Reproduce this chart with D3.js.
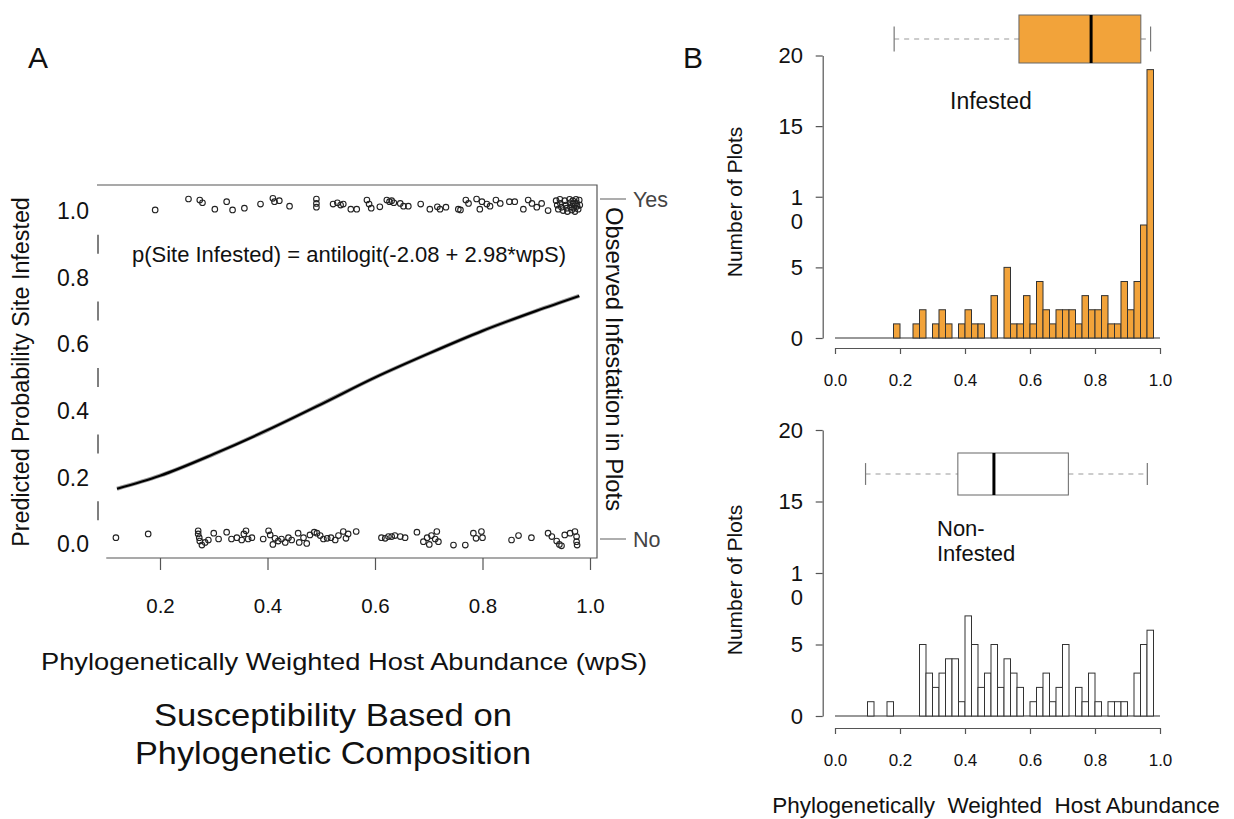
<!DOCTYPE html>
<html>
<head>
<meta charset="utf-8">
<script src="https://cdn.jsdelivr.net/npm/d3@7"></script>
<style>
  body { margin: 0; background: #fff; }
  svg { font-family: "Liberation Sans", Arial, Helvetica, sans-serif; }
</style>
</head>
<body>
<svg id="chart" width="1234" height="819"></svg>
<script>
// ---- panel A data ----
var wpsTicks = [0.2, 0.4, 0.6, 0.8, 1.0];
var probTicks = [0, 0.2, 0.4, 0.6, 0.8, 1.0];
var observedLabels = ["No", "Yes"];
var equationLabel = "p(Site Infested) = antilogit(-2.08 + 2.98*wpS)";

// fitted curve
var curveX = [0.12, 0.2, 0.3, 0.4, 0.5, 0.6, 0.7, 0.8, 0.9, 0.98];
var curveP = [0.166, 0.205, 0.270, 0.342, 0.420, 0.500, 0.572, 0.640, 0.700, 0.745];

// jittered observations [wpS, observed]
var infestedPts = [
  [0.191,0.968],[0.253,1.0],[0.274,0.997],[0.279,0.989],[0.302,0.970],[0.324,0.992],[0.335,0.968],
  [0.357,0.973],[0.387,0.985],[0.410,1.002],[0.413,0.992],[0.422,0.995],[0.441,0.979],[0.491,1.0],
  [0.491,0.987],[0.491,0.976],[0.522,0.985],[0.530,0.989],[0.536,0.982],[0.541,0.985],[0.555,0.970],
  [0.566,0.970],[0.585,0.997],[0.589,0.985],[0.593,0.973],[0.609,0.977],[0.622,0.997],[0.627,0.992],
  [0.631,0.995],[0.635,0.989],[0.647,0.987],[0.653,0.979],[0.662,0.979],[0.685,0.985],[0.702,0.970],
  [0.716,0.977],[0.721,0.970],[0.732,0.976],[0.755,0.970],[0.759,0.968],[0.769,0.997],[0.774,0.987],
  [0.789,1.0],[0.795,0.970],[0.799,0.992],[0.808,0.985],[0.814,0.979],[0.825,0.997],[0.833,0.987],
  [0.850,0.992],[0.860,0.992],[0.876,0.970],[0.885,0.997],[0.892,0.987],[0.901,0.976],[0.910,0.987],
  [0.922,0.966],[0.937,0.995],[0.939,0.982],[0.941,0.970],[0.944,0.999],[0.945,0.987],[0.947,0.976],
  [0.950,0.966],[0.953,0.995],[0.955,0.982],[0.957,0.973],[0.958,0.963],[0.962,0.999],[0.963,0.989],
  [0.964,0.977],[0.966,0.968],[0.968,0.995],[0.969,0.985],[0.970,0.973],[0.972,0.963],[0.974,0.999],
  [0.975,0.989],[0.976,0.979],[0.978,0.970],[0.980,0.997],[0.981,0.982]
];
var nonInfestedPts = [
  [0.118,0.004],[0.178,0.015],[0.271,0.024],[0.271,0.015],[0.273,0.004],[0.274,-0.006],[0.278,-0.018],
  [0.284,-0.010],[0.290,-0.003],[0.300,0.017],[0.309,0],[0.324,0.020],[0.333,0],[0.343,0.004],
  [0.352,-0.003],[0.356,0.015],[0.360,0.024],[0.364,0],[0.371,0.004],[0.392,0],[0.402,0.024],
  [0.405,0.012],[0.410,-0.016],[0.414,0.002],[0.420,-0.006],[0.426,0],[0.433,-0.010],[0.439,0.004],
  [0.445,-0.003],[0.457,0.017],[0.459,-0.010],[0.467,0.004],[0.473,-0.013],[0.479,0.012],[0.487,0.020],
  [0.492,0.017],[0.498,0.010],[0.504,0],[0.511,0.002],[0.518,0.004],[0.526,-0.003],[0.532,0.010],
  [0.541,0.022],[0.546,0.002],[0.550,0.015],[0.565,0.022],[0.612,0.004],[0.619,0.002],[0.625,0.007],
  [0.631,0.007],[0.637,0.010],[0.647,0.007],[0.656,0.004],[0.678,0.020],[0.690,-0.008],[0.697,0.004],
  [0.701,-0.016],[0.705,0.010],[0.712,0],[0.715,0.022],[0.718,-0.008],[0.746,-0.018],[0.768,-0.018],
  [0.783,0.017],[0.788,0.002],[0.798,0.022],[0.800,0.004],[0.854,-0.003],[0.867,0.010],[0.891,0.004],
  [0.922,0.017],[0.929,0.007],[0.938,-0.006],[0.943,-0.016],[0.947,-0.020],[0.953,0.012],[0.963,0.017],
  [0.972,0.022],[0.975,0.007],[0.975,-0.008],[0.976,-0.018]
];

// ---- panel B data ----
var binWidth = 0.02;
var infestedCounts = [0,0,0,0,0,0,0,0,0,1, 0,0,1,2,0,1,2,1,0,1, 2,1,1,0,3,0,5,1,1,3,
                      1,4,2,1,2,2,2,1,3,2, 2,3,1,1,4,2,4,8,19,0];
var nonInfestedCounts = [0,0,0,0,0,1,0,0,1,0, 0,0,0,5,3,2,3,4,4,1, 7,5,2,3,5,2,4,3,2,0,
                         1,2,3,1,2,5,0,2,1,3, 1,0,1,1,1,0,3,5,6,0];
// boxplot: [lower whisker, q1, median, q3, upper whisker]
var infestedBox = [0.182, 0.566, 0.788, 0.941, 0.971];
var nonInfestedBox = [0.094, 0.378, 0.489, 0.718, 0.961];
var histTicks = [0, 0.2, 0.4, 0.6, 0.8, 1.0];
var countTicks = [0, 5, 10, 15, 20];
var countTickLabels = ["0", "5", "1\n0", "15", "20"];

var svg = d3.select("#chart");
var fmt1 = d3.format(".1f");

// ================= Panel A =================
var xA = d3.scaleLinear().domain([0, 1]).range([52.5, 590]);
var yL = d3.scaleLinear().domain([0, 1]).range([544, 211]);
var yR = d3.scaleLinear().domain([0, 1]).range([539, 199]);
var boxTop = 185, boxBottom = 558, boxLeft = 97, boxRight = 597;

var gA = svg.append("g").attr("class", "panelA");

// frame: top, right, bottom
gA.append("path")
  .attr("d", "M" + boxLeft + "," + boxTop + "H" + boxRight + "V" + boxBottom + "H" + xA(0.1))
  .attr("fill", "none").attr("stroke", "#555").attr("stroke-width", 1.2);

// x axis ticks
var xAxisA = d3.axisBottom(xA).tickValues(wpsTicks).tickFormat(fmt1).tickSize(12).tickSizeOuter(0).tickPadding(28);
gA.append("g").attr("transform", "translate(0," + boxBottom + ")").call(xAxisA)
  .call(function(g) {
    g.select(".domain").remove();
    g.selectAll("line").attr("stroke", "#555").attr("stroke-width", 1.2);
    g.selectAll("text").attr("font-size", 20.5).attr("fill", "#111");
  });

// left axis: dashed line between ticks, labels only
var step = yL(0) - yL(0.2), seg = 19, gap = (step - seg) / 2;
gA.append("line")
  .attr("x1", 98).attr("x2", 98).attr("y1", yL(1)).attr("y2", yL(0))
  .attr("stroke", "#555").attr("stroke-width", 1.5)
  .attr("stroke-dasharray", "0," + gap + "," + seg + "," + gap);
gA.selectAll("text.ylab").data(probTicks).enter().append("text")
  .attr("class", "ylab")
  .attr("x", 89).attr("y", function(d) { return yL(d); })
  .attr("dy", "0.36em").attr("text-anchor", "end")
  .attr("font-size", 23).attr("fill", "#111")
  .text(fmt1);

// right axis Yes / No
var gR = gA.append("g");
gR.selectAll("line").data([0, 1]).enter().append("line")
  .attr("x1", 600).attr("x2", 626)
  .attr("y1", function(d) { return yR(d); }).attr("y2", function(d) { return yR(d); })
  .attr("stroke", "#777").attr("stroke-width", 1.2);
gR.selectAll("text").data([0, 1]).enter().append("text")
  .attr("x", 633).attr("y", function(d) { return yR(d); })
  .attr("dy", "0.36em").attr("font-size", 21.5).attr("fill", "#444")
  .text(function(d) { return observedLabels[d]; });

// points
function drawPts(data) {
  gA.append("g").selectAll("circle").data(data).enter().append("circle")
    .attr("cx", function(d) { return xA(d[0]); })
    .attr("cy", function(d) { return yR(d[1]); })
    .attr("r", 2.8)
    .attr("fill", "none").attr("stroke", "#222").attr("stroke-width", 1.1);
}
drawPts(infestedPts);
drawPts(nonInfestedPts);

// fitted curve
var curve = d3.line().curve(d3.curveMonotoneX)
  .x(function(d, i) { return xA(curveX[i]); })
  .y(function(d, i) { return yL(curveP[i]); });
gA.append("path").datum(curveX).attr("d", curve)
  .attr("fill", "none").attr("stroke", "#999").attr("stroke-width", 4);
gA.append("path").datum(curveX).attr("d", curve)
  .attr("fill", "none").attr("stroke", "#000").attr("stroke-width", 2.2);

gA.append("text").attr("x", 349).attr("y", 254).attr("dy", "0.36em")
  .attr("text-anchor", "middle").attr("font-size", 22).attr("fill", "#111")
  .text(equationLabel);

// titles
gA.append("text").attr("transform", "translate(29,372) rotate(-90)")
  .attr("text-anchor", "middle").attr("font-size", 23.3).attr("fill", "#111")
  .text("Predicted Probability Site Infested");
gA.append("text").attr("transform", "translate(606,359) rotate(90)")
  .attr("text-anchor", "middle").attr("font-size", 23.8).attr("fill", "#111")
  .text("Observed Infestation in Plots");
gA.append("text").attr("x", 344).attr("y", 661).attr("dy", "0.36em")
  .attr("text-anchor", "middle").attr("font-size", 24.5).attr("fill", "#111")
  .attr("textLength", 606).attr("lengthAdjust", "spacingAndGlyphs")
  .text("Phylogenetically Weighted Host Abundance (wpS)");
gA.append("text").attr("x", 333).attr("y", 714).attr("dy", "0.36em")
  .attr("text-anchor", "middle").attr("font-size", 32).attr("fill", "#111")
  .attr("textLength", 358).attr("lengthAdjust", "spacingAndGlyphs")
  .text("Susceptibility Based on");
gA.append("text").attr("x", 333).attr("y", 752).attr("dy", "0.36em")
  .attr("text-anchor", "middle").attr("font-size", 32).attr("fill", "#111")
  .attr("textLength", 396).attr("lengthAdjust", "spacingAndGlyphs")
  .text("Phylogenetic Composition");
svg.append("text").attr("x", 38).attr("y", 57).attr("dy", "0.36em")
  .attr("text-anchor", "middle").attr("font-size", 30).attr("fill", "#111").text("A");

// ================= Panel B =================
svg.append("text").attr("x", 693).attr("y", 57).attr("dy", "0.36em")
  .attr("text-anchor", "middle").attr("font-size", 30).attr("fill", "#111").text("B");

var xB = d3.scaleLinear().domain([0, 1]).range([835, 1160]);

function drawHist(opts) {
  var g = svg.append("g");
  var y = opts.y;
  var bw = xB(binWidth) - xB(0);

  // baseline
  g.append("line").attr("x1", xB(0)).attr("x2", xB(1))
    .attr("y1", y(0)).attr("y2", y(0)).attr("stroke", "#333").attr("stroke-width", 1.2);

  // bars
  g.selectAll("rect.bar").data(opts.counts).enter().append("rect")
    .attr("class", "bar")
    .attr("x", function(d, i) { return xB(i * binWidth); })
    .attr("width", bw)
    .attr("y", function(d) { return y(d); })
    .attr("height", function(d) { return y(0) - y(d); })
    .attr("fill", opts.fill).attr("stroke", "#333").attr("stroke-width", 1)
    .style("display", function(d) { return d > 0 ? null : "none"; });

  // x axis
  var ax = d3.axisBottom(xB).tickValues(histTicks).tickFormat(fmt1).tickSize(6).tickSizeOuter(0).tickPadding(20);
  g.append("g").attr("transform", "translate(0," + opts.axisY + ")").call(ax)
    .call(function(s) {
      s.select(".domain").attr("stroke", "#555").attr("stroke-width", 1.2);
      s.selectAll("line").attr("stroke", "#555").attr("stroke-width", 1.2);
      s.selectAll("text").attr("font-size", 17).attr("fill", "#111");
    });

  // y axis
  var ay = d3.axisLeft(y).tickValues(countTicks).tickFormat("").tickSize(7).tickSizeOuter(0);
  g.append("g").attr("transform", "translate(822.7,0)").call(ay)
    .call(function(s) {
      s.select(".domain").attr("stroke", "#555").attr("stroke-width", 1.2);
      s.selectAll("line").attr("stroke", "#555").attr("stroke-width", 1.2);
    });
  countTicks.forEach(function(t, i) {
    var lines = countTickLabels[i].split("\n");
    var txt = g.append("text").attr("x", 803).attr("y", y(t))
      .attr("text-anchor", "end").attr("font-size", 22).attr("fill", "#111");
    lines.forEach(function(l, k) {
      txt.append("tspan").attr("x", 803).attr("dy", k === 0 ? "0.36em" : 24).text(l);
    });
  });

  g.append("text").attr("transform", "translate(742," + opts.titleY + ") rotate(-90)")
    .attr("text-anchor", "middle").attr("font-size", 21).attr("fill", "#111")
    .text("Number of Plots");

  // boxplot
  var b = opts.box, bt = opts.boxTop, bb = opts.boxBottom, bm = (bt + bb) / 2;
  var capH = (bb - bt) * 0.52;
  g.append("line").attr("x1", xB(b[0])).attr("x2", xB(b[1])).attr("y1", bm).attr("y2", bm)
    .attr("stroke", "#999").attr("stroke-width", 1.2).attr("stroke-dasharray", "5,5");
  g.append("line").attr("x1", xB(b[3])).attr("x2", xB(b[4])).attr("y1", bm).attr("y2", bm)
    .attr("stroke", "#999").attr("stroke-width", 1.2).attr("stroke-dasharray", "5,5");
  [b[0], b[4]].forEach(function(v) {
    g.append("line").attr("x1", xB(v)).attr("x2", xB(v))
      .attr("y1", bm - capH / 2).attr("y2", bm + capH / 2)
      .attr("stroke", "#777").attr("stroke-width", 1.2);
  });
  g.append("rect").attr("x", xB(b[1])).attr("width", xB(b[3]) - xB(b[1]))
    .attr("y", bt).attr("height", bb - bt)
    .attr("fill", opts.fill).attr("stroke", "#666").attr("stroke-width", 1);
  g.append("line").attr("x1", xB(b[2])).attr("x2", xB(b[2])).attr("y1", bt).attr("y2", bb)
    .attr("stroke", "#000").attr("stroke-width", 3);

  // group label
  opts.label.forEach(function(l, k) {
    g.append("text").attr("x", opts.labelX).attr("y", opts.labelY + k * 25).attr("dy", "0.36em")
      .attr("font-size", opts.labelSize).attr("fill", "#111").text(l);
  });
}

drawHist({
  counts: infestedCounts, fill: "#F2A33A",
  y: d3.scaleLinear().domain([0, 20]).range([338, 55.5]),
  axisY: 348, titleY: 202, box: infestedBox, boxTop: 15, boxBottom: 63,
  label: ["Infested"], labelX: 950, labelY: 101, labelSize: 23
});
drawHist({
  counts: nonInfestedCounts, fill: "#fff",
  y: d3.scaleLinear().domain([0, 20]).range([716, 430]),
  axisY: 728, titleY: 580, box: nonInfestedBox, boxTop: 453, boxBottom: 495,
  label: ["Non-", "Infested"], labelX: 937, labelY: 528, labelSize: 22
});

svg.append("text").attr("x", 996).attr("y", 805).attr("dy", "0.36em")
  .attr("text-anchor", "middle").attr("font-size", 22.5).attr("fill", "#111")
  .style("white-space", "pre")
  .text("Phylogenetically  Weighted  Host Abundance");
</script>
</body>
</html>
